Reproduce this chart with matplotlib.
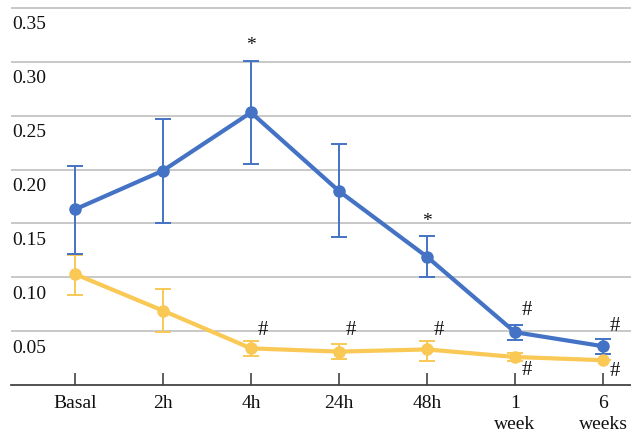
import matplotlib
matplotlib.use("Agg")
import matplotlib.pyplot as plt
import matplotlib.transforms as mtransforms
import numpy as np

plt.rcParams['font.family'] = ['Liberation Serif', 'DejaVu Serif']

categories = ["Basal", "2h", "4h", "24h", "48h", "1\nweek", "6\nweeks"]

blue_mean = [0.163, 0.199, 0.253, 0.180, 0.119, 0.049, 0.036]
blue_upper = [0.203, 0.247, 0.301, 0.224, 0.138, 0.056, 0.043]
blue_lower = [0.122, 0.150, 0.205, 0.137, 0.100, 0.042, 0.029]

yellow_mean = [0.103, 0.069, 0.034, 0.031, 0.033, 0.026, 0.023]
yellow_upper = [0.121, 0.089, 0.041, 0.038, 0.041, 0.030, 0.023]
yellow_lower = [0.084, 0.049, 0.027, 0.024, 0.022, 0.022, 0.023]

yticks = [0.05, 0.10, 0.15, 0.20, 0.25, 0.30, 0.35]

# (category index, y value, symbol)
marks = [(2, 0.315, "*"), (4, 0.152, "*"),
         (2, 0.0505, "#"), (3, 0.0505, "#"), (4, 0.0505, "#"),
         (5, 0.0690, "#"), (6, 0.0541, "#"),
         (5, 0.0132, "#"), (6, 0.0123, "#")]

blue = "#4472C4"
gold = "#F9C855"

fig = plt.figure(figsize=(6.31, 4.33), dpi=100)
ax = fig.add_axes([11 / 631, 48 / 433, 620 / 631, 385 / 433])

x = np.arange(len(categories))

def draw(mean, lo, hi, color):
    mean = np.array(mean)
    err = [mean - np.array(lo), np.array(hi) - mean]
    ax.errorbar(x, mean, yerr=err, color=color, lw=3.0, marker="o", ms=8,
                ecolor=color, elinewidth=1.4, capsize=5.5, capthick=1.4, zorder=3)

draw(yellow_mean, yellow_lower, yellow_upper, gold)
draw(blue_mean, blue_lower, blue_upper, blue)

for i, yv, s in marks:
    if s == "*":
        ax.text(i, yv, s, ha="center", va="center", fontsize=14, color="#111111")
    else:
        ax.text(i + 0.135, yv, s, ha="center", va="center", fontsize=15, color="#111111")

ax.set_xlim(-0.727, 6.318)
ax.set_ylim(0, 0.3574)
ax.set_xticks(x)
ax.set_xticklabels(categories, fontsize=14, linespacing=1.3, color="#111111")
ax.tick_params(axis="x", direction="in", length=9, width=1.2, color="#444444", pad=7)

ax.set_yticks(yticks)
ax.set_yticklabels(["%.2f" % v for v in yticks], fontsize=14, color="#111111")
ax.tick_params(axis="y", length=0, pad=0)
off = mtransforms.ScaledTranslation(0.01, -0.15, fig.dpi_scale_trans)
for lab in ax.get_yticklabels():
    lab.set_horizontalalignment("left")
    lab.set_transform(lab.get_transform() + off)

ax.grid(axis="y", color="#BFBFBF", lw=1.2)
ax.set_axisbelow(True)
for s in ["top", "right", "left"]:
    ax.spines[s].set_visible(False)
ax.spines["bottom"].set_color("#444444")
ax.spines["bottom"].set_linewidth(1.3)

fig.savefig("out.png", dpi=100)
